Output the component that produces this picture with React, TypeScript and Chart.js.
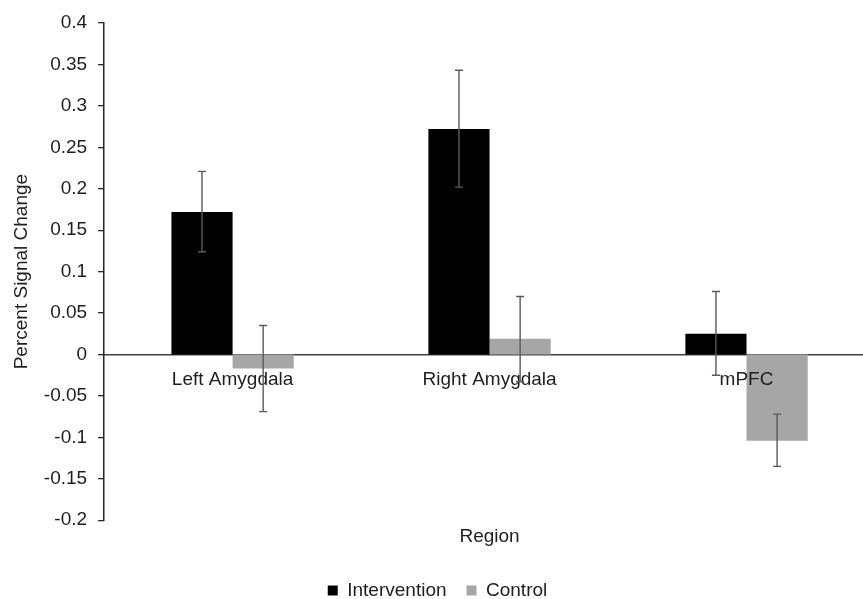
import React, { useEffect, useRef } from "react";
import { Chart, registerables } from "chart.js";

Chart.register(...registerables);

const categories = ["Left Amygdala", "Right Amygdala", "mPFC"];
const seriesNames = ["Intervention", "Control"];
const intervention = [0.172, 0.272, 0.025];
const control = [-0.017, 0.019, -0.104];
const interventionHigh = [0.221, 0.343, 0.076];
const interventionLow = [0.124, 0.202, -0.025];
const controlHigh = [0.035, 0.070, -0.072];
const controlLow = [-0.069, -0.033, -0.135];
const yMin = -0.2;
const yMax = 0.4;
const yStep = 0.05;

const FONT = "'Liberation Sans', Arial, sans-serif";
const TEXT = "#1e1e1e";

const errorBarPlugin = {
  id: "errorBars",
  afterDraw(chart: any) {
    const { ctx } = chart;
    const yScale = chart.scales.y;
    const ranges = [
      [interventionHigh, interventionLow],
      [controlHigh, controlLow],
    ];
    ranges.forEach(([hi, lo], di) => {
      const meta = chart.getDatasetMeta(di);
      meta.data.forEach((bar: any, i: number) => {
        const x = bar.x;
        const yh = yScale.getPixelForValue(hi[i]);
        const yl = yScale.getPixelForValue(lo[i]);
        ctx.save();
        ctx.strokeStyle = "#5a5a5a";
        ctx.lineWidth = 1.4;
        ctx.beginPath();
        ctx.moveTo(x, yh);
        ctx.lineTo(x, yl);
        ctx.moveTo(x - 4, yh);
        ctx.lineTo(x + 4, yh);
        ctx.moveTo(x - 4, yl);
        ctx.lineTo(x + 4, yl);
        ctx.stroke();
        ctx.restore();
      });
    });
  },
};

export default function App() {
  const ref = useRef<HTMLCanvasElement | null>(null);

  useEffect(() => {
    if (!ref.current) return;
    const chart = new Chart(ref.current, {
      type: "bar",
      data: {
        labels: categories,
        datasets: [
          {
            label: seriesNames[0],
            data: intervention,
            backgroundColor: "#000000",
            borderWidth: 0,
            categoryPercentage: 0.476,
            barPercentage: 1.0,
          },
          {
            label: seriesNames[1],
            data: control,
            backgroundColor: "#a6a6a6",
            borderWidth: 0,
            categoryPercentage: 0.476,
            barPercentage: 1.0,
          },
        ],
      },
      options: {
        responsive: false,
        animation: false,
        layout: { padding: { left: 0, right: 5, top: 23, bottom: 0 } },
        plugins: {
          tooltip: { enabled: false },
          legend: {
            position: "bottom",
            labels: {
              boxWidth: 10,
              boxHeight: 10,
              padding: 20,
              color: TEXT,
              font: { family: FONT, size: 19 },
            },
          },
        },
        scales: {
          x: {
            type: "category",
            position: "bottom",
            offset: true,
            grid: { display: false, drawTicks: false },
            border: { display: false },
            ticks: { display: false },
            title: {
              display: true,
              text: "Region",
              color: TEXT,
              font: { family: FONT, size: 19 },
              padding: { top: 5, bottom: 13 },
            },
          },
          x2: {
            type: "category",
            position: { y: 0 },
            offset: true,
            grid: { display: false, drawTicks: false },
            border: { display: true, color: "#404040", width: 1.5, z: 0 },
            ticks: {
              z: 1,
              padding: 14,
              color: TEXT,
              maxRotation: 0,
              autoSkip: false,
              font: { family: FONT, size: 19 },
            },
          },
          y: {
            type: "linear",
            min: yMin,
            max: yMax,
            grid: {
              display: true,
              drawOnChartArea: false,
              drawTicks: true,
              tickLength: 6,
              color: "#262626",
              lineWidth: 1.3,
            },
            border: { display: true, color: "#262626", width: 1.5 },
            ticks: {
              stepSize: yStep,
              maxTicksLimit: 30,
              padding: 11,
              color: TEXT,
              font: { family: FONT, size: 19 },
              callback: (v: any) => String(Math.round(Number(v) * 100) / 100),
            },
            title: {
              display: true,
              text: "Percent Signal Change",
              color: TEXT,
              font: { family: FONT, size: 19 },
              padding: { top: 10, bottom: 0 },
            },
          },
        },
      } as any,
      plugins: [errorBarPlugin],
    });
    return () => chart.destroy();
  }, []);

  return (
    <div
      style={{
        position: "fixed",
        left: 0,
        top: 0,
        width: 863,
        height: 599,
        overflow: "hidden",
        background: "#ffffff",
      }}
    >
      <canvas ref={ref} width={880} height={610} style={{ display: "block" }} />
    </div>
  );
}
